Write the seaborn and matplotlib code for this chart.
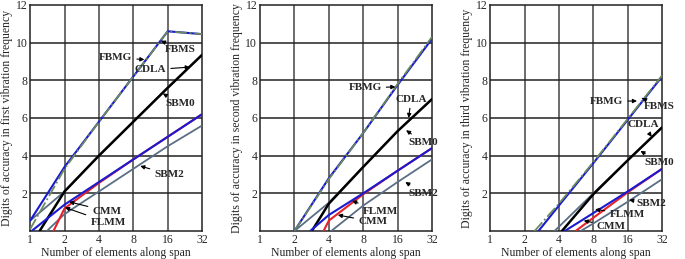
import numpy as np
import pandas as pd
import matplotlib
matplotlib.use("Agg")
import matplotlib.pyplot as plt
import seaborn as sns
from matplotlib.ticker import FixedLocator, FixedFormatter, NullLocator

sns.set_style("white")
plt.rcParams["font.family"] = ["Liberation Serif", "DejaVu Serif"]

# elements along span (N) and digits of accuracy
first_mode = {
    "FBMG": ([1, 2, 4, 8, 16, 32], [0.55, 3.4, 5.8, 8.2, 10.6, 10.45]),
    "FBMS": ([1, 2, 4, 8, 16, 32], [0.1, 3.3, 5.8, 8.2, 10.6, 10.45]),
    "CDLA": ([1, 2, 4, 8, 16, 32], [0.55, 2.1, 4.0, 5.8, 7.6, 9.35]),
    "SBM0": ([1.21, 2, 4, 8, 16, 32], [0.0, 2.1, 4.0, 5.8, 7.6, 9.35]),
    "CMM": ([1.03, 2, 4, 8, 16, 32], [0.0, 1.4, 2.6, 3.8, 5.0, 6.2]),
    "FLMM": ([1.6, 2, 4, 8, 16, 32], [0.0, 1.2, 2.55, 3.8, 5.0, 6.2]),
    "SBM2": ([1.4, 2, 4, 8, 16, 32], [0.0, 0.9, 2.1, 3.3, 4.5, 5.6]),
}
second_mode = {
    "FBMG": ([2, 4, 8, 16, 32], [0.0, 2.8, 5.2, 7.75, 10.2]),
    "FBMS": ([2, 4, 8, 16, 32], [0.0, 2.75, 5.2, 7.8, 10.3]),
    "CDLA": ([2, 4, 8, 16, 32], [0.0, 1.5, 3.4, 5.3, 7.0]),
    "SBM0": ([2.84, 4, 8, 16, 32], [0.0, 1.45, 3.4, 5.3, 7.0]),
    "CMM": ([2.75, 4, 8, 16, 32], [0.0, 0.85, 2.0, 3.2, 4.4]),
    "FLMM": ([3.6, 4, 8, 16, 32], [0.0, 0.55, 1.95, 3.2, 4.4]),
    "SBM2": ([4.2, 8, 16, 32], [0.0, 1.35, 2.6, 3.8]),
}
third_mode = {
    "FBMG": ([2.65, 4, 8, 16, 32], [0.0, 1.35, 3.6, 5.9, 8.2]),
    "FBMS": ([2.45, 4, 8, 16, 32], [0.0, 1.45, 3.65, 5.95, 8.25]),
    "CDLA": ([3.66, 8, 16, 32], [0.0, 2.0, 3.75, 5.5]),
    "SBM0": ([4.25, 8, 16, 32], [0.0, 1.95, 3.75, 5.5]),
    "CMM": ([4.5, 8, 16, 32], [0.0, 0.95, 2.1, 3.3]),
    "FLMM": ([5.6, 8, 16, 32], [0.0, 0.7, 2.05, 3.3]),
    "SBM2": ([6.2, 8, 16, 32], [0.0, 0.4, 1.55, 2.75]),
}

x_ticks = [1, 2, 4, 8, 16, 32]
y_ticks = [2, 4, 6, 8, 10, 12]
modes = ["first", "second", "third"]

styles = {
    "CDLA": dict(color="#5b6e85", lw=1.3, ls="-"),
    "SBM2": dict(color="#5b6e85", lw=1.3, ls="-"),
    "SBM0": dict(color="black", lw=1.8, ls="-"),
    "FLMM": dict(color="#e8202a", lw=1.5, ls="-"),
    "CMM": dict(color="#1a1ad0", lw=1.5, ls="-"),
    "FBMG": dict(color="#1a1ad0", lw=1.5, ls="-"),
    "FBMS": dict(color="#6a8a5e", lw=1.3, ls="-."),
}

# label text position, arrow tip (data coords)
notes = [
    [("FBMG", (5.6, 9.2), (10.0, 9.1)), ("FBMS", (20.5, 9.65), (14.0, 10.1)),
     ("CDLA", (11.3, 8.55), (25, 8.7)), ("SBM0", (20.5, 6.75), (14.5, 7.3)),
     ("SBM2", (16.5, 3.0), (9.2, 3.45)), ("CMM", (4.7, 1.05), (2.2, 1.55)),
     ("FLMM", (4.8, 0.45), (2.02, 1.25))],
    [("FBMG", (8.3, 7.6), (15.3, 7.65)), ("CDLA", (21, 7.0), (20, 6.0)),
     ("SBM0", (27, 4.7), (19, 5.35)), ("SBM2", (27, 2.0), (18.7, 2.6)),
     ("FLMM", (11.3, 1.05), (6.4, 1.6)), ("CMM", (9.7, 0.5), (4.8, 0.85))],
    [("FBMG", (10.5, 6.9), (19.3, 6.9)), ("FBMS", (30.5, 6.6), (21.4, 7.05)),
     ("CDLA", (21.7, 5.65), (26, 5.0)), ("SBM0", (30.5, 3.65), (20.7, 4.25)),
     ("SBM2", (26, 1.45), (16.5, 1.65)), ("FLMM", (15.8, 0.9), (8.3, 1.15)),
     ("CMM", (11.5, 0.25), (6.6, 0.55))],
]

fig = plt.figure(figsize=(6.85, 2.59), dpi=100)
lefts = [0.044, 0.3796, 0.7155]
axes = [fig.add_axes([l, 0.108, 0.251, 0.873]) for l in lefts]

for ax, data, mode, ann in zip(axes, [first_mode, second_mode, third_mode], modes, notes):
    for name in ["SBM2", "CDLA", "SBM0", "FLMM", "CMM", "FBMG", "FBMS"]:
        n, y = data[name]
        df = pd.DataFrame({"N": n, "digits": y})
        st = styles[name]
        sns.lineplot(data=df, x="N", y="digits", ax=ax, color=st["color"],
                     linewidth=st["lw"], linestyle=st["ls"], sort=False,
                     zorder=3)
    ax.set_xscale("log", base=2)
    ax.set_xlim(1, 32)
    ax.set_ylim(0, 12)
    ax.xaxis.set_major_locator(FixedLocator(x_ticks))
    ax.xaxis.set_major_formatter(FixedFormatter([str(t) for t in x_ticks]))
    ax.xaxis.set_minor_locator(NullLocator())
    ax.yaxis.set_major_locator(FixedLocator(y_ticks))
    ax.tick_params(labelsize=8.5, length=0, pad=2)
    ax.grid(False)
    for t in x_ticks[1:-1]:
        ax.axvline(t, color="#444444", lw=1.1, zorder=1)
    for t in y_ticks[:-1]:
        ax.axhline(t, color="#222222", lw=1.1, zorder=1)
    for sp in ax.spines.values():
        sp.set_color("#222222")
        sp.set_linewidth(1.1)
    ax.set_xlabel("Number of elements along span", fontsize=8.5, labelpad=1)
    ax.set_ylabel(f"Digits of accuracy in {mode} vibration frequency", fontsize=8.5, labelpad=2)
    for label, txt, tip in ann:
        ax.annotate(label, xy=tip, xytext=txt, fontsize=8, fontweight="bold",
                    ha="center", va="center", zorder=5, annotation_clip=False,
                    arrowprops=dict(arrowstyle="-|>", color="black", lw=0.8,
                                    mutation_scale=6, shrinkA=1, shrinkB=0))

fig.savefig("out.png", dpi=100)
